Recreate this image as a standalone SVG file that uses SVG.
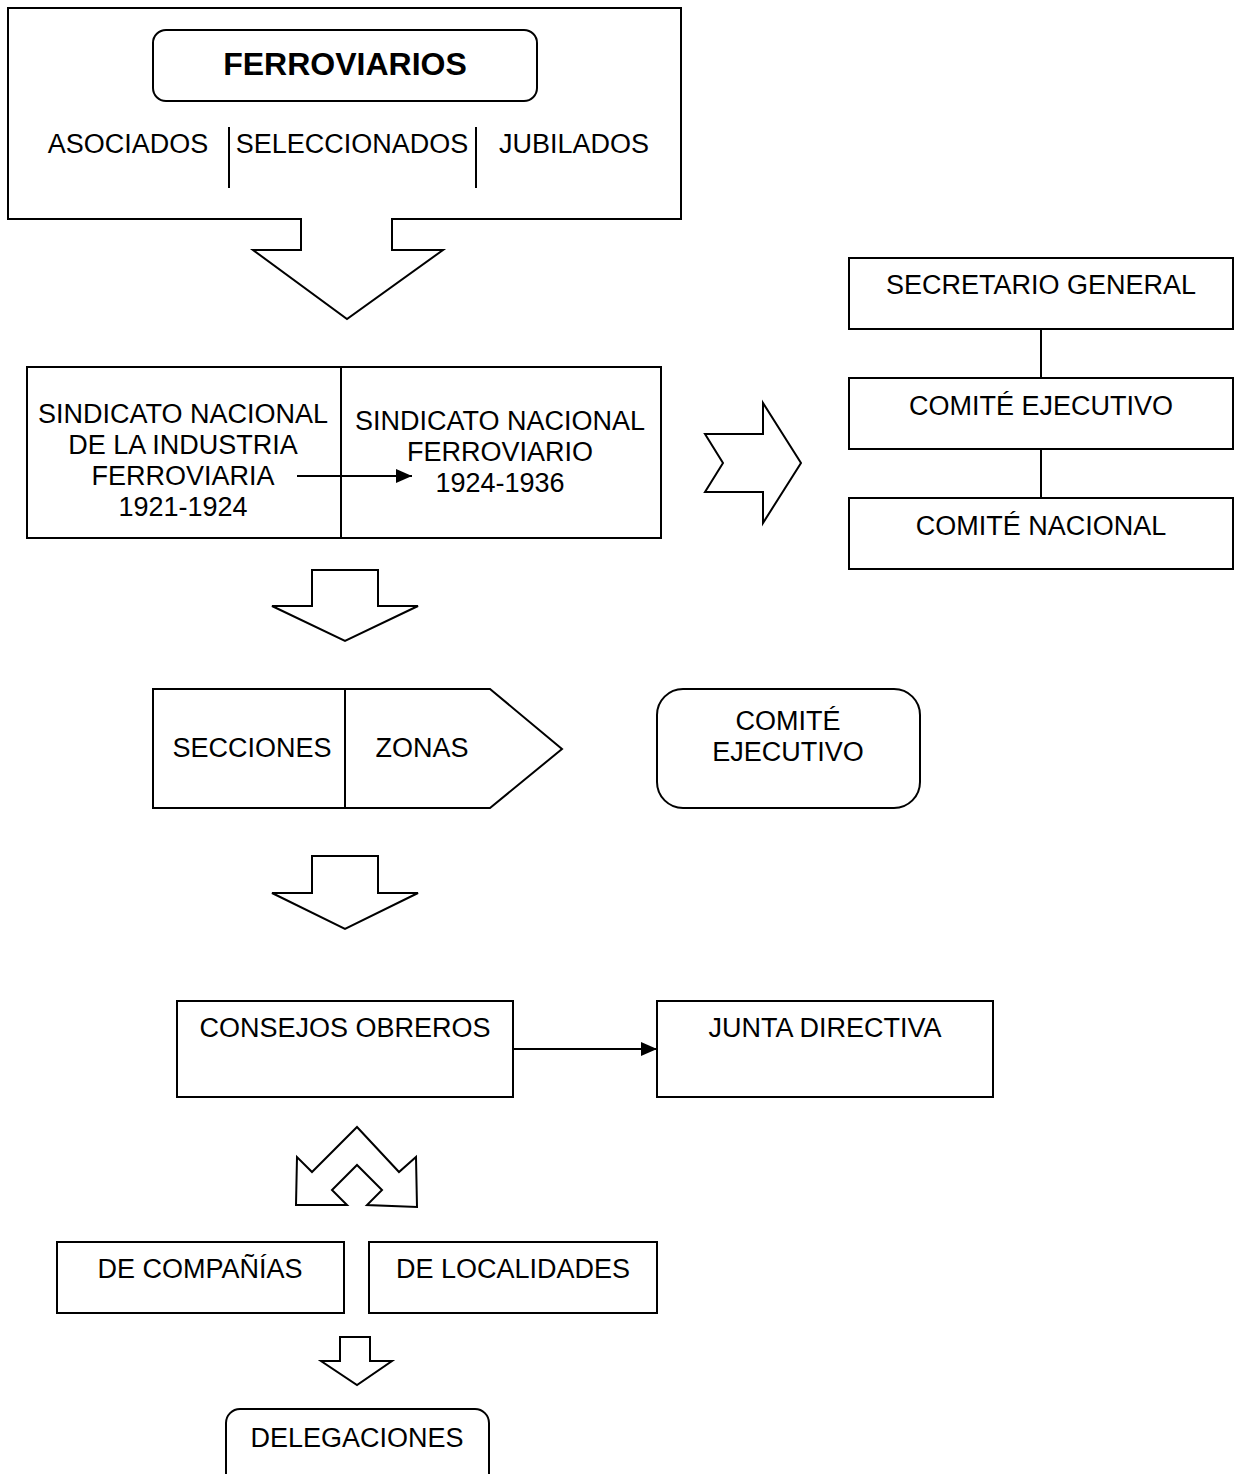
<svg xmlns="http://www.w3.org/2000/svg" width="1234" height="1474" viewBox="0 0 1234 1474">
<style>
.s{fill:#fff;stroke:#000;stroke-width:2}
.l{fill:none;stroke:#000;stroke-width:2}
text{font-family:"Liberation Sans",Arial,sans-serif;font-size:27px;fill:#000;text-anchor:middle}
.b{font-weight:bold;font-size:32px}
</style>
<defs>
<marker id="ah" viewBox="0 0 16 14" refX="16" refY="7" markerWidth="16" markerHeight="14" markerUnits="userSpaceOnUse" orient="auto">
<path d="M0,0 L16,7 L0,14 Z" fill="#000"/>
</marker>
</defs>
<rect width="1234" height="1474" fill="#fff"/>
<g id="ferroviarios">
<path class="s" d="M8,8 H681 V219 H392 V250 H443 L347,319 L253,250 H301 V219 H8 Z"/>
<rect class="s" x="153" y="30" width="384" height="71" rx="13"/>
<text class="b" x="345" y="75">FERROVIARIOS</text>
<text x="128" y="153">ASOCIADOS</text>
<text x="352" y="153">SELECCIONADOS</text>
<text x="574" y="153">JUBILADOS</text>
<line class="l" x1="229" y1="127" x2="229" y2="188"/>
<line class="l" x1="476" y1="127" x2="476" y2="188"/>
</g>
<g id="sindicato">
<rect class="s" x="27" y="367" width="634" height="171"/>
<line class="l" x1="341" y1="367" x2="341" y2="538"/>
<text x="183" y="423">SINDICATO NACIONAL</text>
<text x="183" y="454">DE LA INDUSTRIA</text>
<text x="183" y="485">FERROVIARIA</text>
<text x="183" y="516">1921-1924</text>
<text x="500" y="430">SINDICATO NACIONAL</text>
<text x="500" y="461">FERROVIARIO</text>
<text x="500" y="492">1924-1936</text>
</g>
<g id="chevron">
<path class="s" d="M705,434 H763 V403 L801,463 L763,523 V492 H705 L723,463 Z"/>
</g>
<g id="secretario">
<rect class="s" x="849" y="258" width="384" height="71"/>
<text x="1041" y="294">SECRETARIO GENERAL</text>
</g>
<g id="comite-ejecutivo-1">
<rect class="s" x="849" y="378" width="384" height="71"/>
<text x="1041" y="415">COMITÉ EJECUTIVO</text>
</g>
<g id="comite-nacional">
<rect class="s" x="849" y="498" width="384" height="71"/>
<text x="1041" y="535">COMITÉ NACIONAL</text>
</g>
<g id="arrow2">
<path class="s" d="M312,570 H378 V606 H418 L345,641 L272,606 H312 Z"/>
</g>
<g id="secciones">
<path class="s" d="M153,689 H490 L562,749 L490,808 H153 Z"/>
<line class="l" x1="345" y1="689" x2="345" y2="808"/>
<text x="252" y="757">SECCIONES</text>
<text x="422" y="757">ZONAS</text>
</g>
<g id="comite-ejecutivo-2">
<rect class="s" x="657" y="689" width="263" height="119" rx="26"/>
<text x="788" y="730">COMITÉ</text>
<text x="788" y="761">EJECUTIVO</text>
</g>
<g id="arrow3">
<path class="s" d="M312,856 H378 V893 H418 L345,929 L272,893 H312 Z"/>
</g>
<g id="consejos">
<rect class="s" x="177" y="1001" width="336" height="96"/>
<text x="345" y="1037">CONSEJOS OBREROS</text>
</g>
<g id="junta">
<rect class="s" x="657" y="1001" width="336" height="96"/>
<text x="825" y="1037">JUNTA DIRECTIVA</text>
</g>
<g id="split-arrow">
<path class="s" d="M357,1127 L399,1172 L416,1157 L417,1207 L367,1205 L382,1190 L357,1165 L332,1190 L347,1205 L296,1205 L297,1157 L312,1172 Z"/>
</g>
<g id="companias">
<rect class="s" x="57" y="1242" width="287" height="71"/>
<text x="200" y="1278">DE COMPAÑÍAS</text>
</g>
<g id="localidades">
<rect class="s" x="369" y="1242" width="288" height="71"/>
<text x="513" y="1278">DE LOCALIDADES</text>
</g>
<g id="arrow4">
<path class="s" d="M340,1337 H370 V1361 H392 L357,1385 L321,1361 H340 Z"/>
</g>
<g id="delegaciones">
<rect class="s" x="226" y="1409" width="263" height="90" rx="14"/>
<text x="357" y="1447">DELEGACIONES</text>
</g>
<g id="connectors">
<line class="l" x1="297" y1="476" x2="412" y2="476" marker-end="url(#ah)"/>
<line class="l" x1="1041" y1="329" x2="1041" y2="378"/>
<line class="l" x1="1041" y1="449" x2="1041" y2="498"/>
<line class="l" x1="513" y1="1049" x2="657" y2="1049" marker-end="url(#ah)"/>
</g>
</svg>
